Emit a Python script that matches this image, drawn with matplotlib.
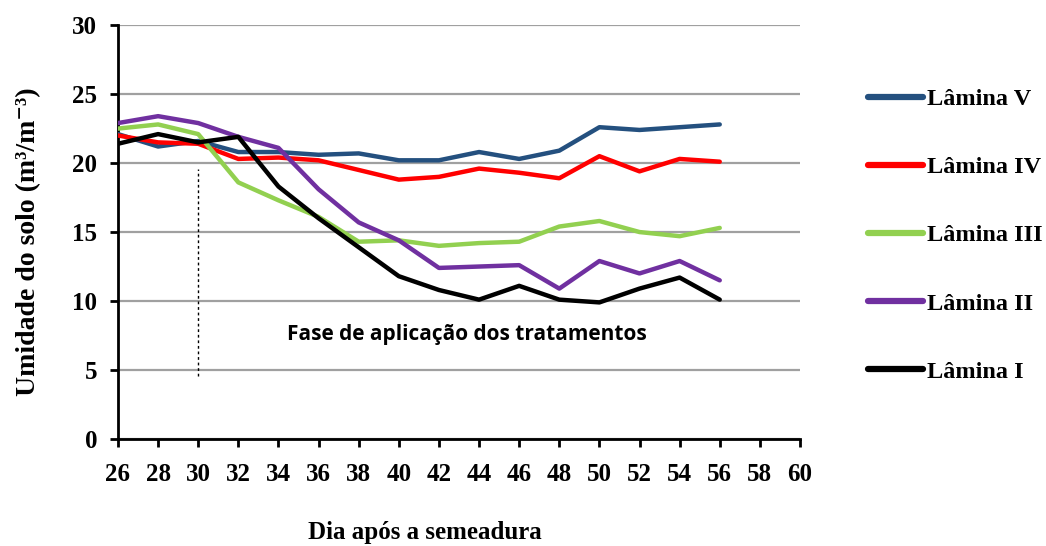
import matplotlib
matplotlib.use('Agg')
import matplotlib.pyplot as plt

plt.rcParams['font.family'] = ['Liberation Serif', 'DejaVu Serif']
plt.rcParams['font.weight'] = 'bold'

# Dias após a semeadura
dias = [26, 28, 30, 32, 34, 36, 38, 40, 42, 44, 46, 48, 50, 52, 54, 56]

lamina_v = [22.1, 21.2, 21.6, 20.8, 20.8, 20.6, 20.7, 20.2, 20.2, 20.8, 20.3, 20.9, 22.6, 22.4, 22.6, 22.8]
lamina_iv = [22.0, 21.5, 21.4, 20.3, 20.4, 20.2, 19.5, 18.8, 19.0, 19.6, 19.3, 18.9, 20.5, 19.4, 20.3, 20.1]
lamina_iii = [22.5, 22.8, 22.1, 18.6, 17.3, 16.1, 14.3, 14.4, 14.0, 14.2, 14.3, 15.4, 15.8, 15.0, 14.7, 15.3]
lamina_ii = [22.9, 23.4, 22.9, 21.9, 21.1, 18.1, 15.7, 14.4, 12.4, 12.5, 12.6, 10.9, 12.9, 12.0, 12.9, 11.5]
lamina_i = [21.4, 22.1, 21.5, 21.9, 18.3, 16.0, 13.9, 11.8, 10.8, 10.1, 11.1, 10.1, 9.9, 10.9, 11.7, 10.1]

series = [
    ('Lâmina V', lamina_v, '#24507f'),
    ('Lâmina IV', lamina_iv, '#ff0000'),
    ('Lâmina III', lamina_iii, '#92d050'),
    ('Lâmina II', lamina_ii, '#7030a0'),
    ('Lâmina I', lamina_i, '#000000'),
]

fig = plt.figure(figsize=(10.46, 5.46), dpi=100)
ax = fig.add_axes([0.1128, 0.196, 0.652, 0.758])

for label, vals, col in series:
    ax.plot(dias, vals, color=col, lw=3.2, label=label, solid_capstyle='round', zorder=3)

# linha pontilhada do início dos tratamentos
ax.plot([30, 30], [4.6, 19.6], color='black', lw=1, ls=(0, (2, 2)), zorder=2)
ax.text(43.4, 7.6, 'Fase de aplicação dos tratamentos', family='Open Sans',
        fontweight='bold', fontsize=15, ha='center', va='center')

ax.set_xlim(26, 60)
ax.set_ylim(0, 30)
ax.set_xticks(range(26, 61, 2))
ax.set_yticks(range(0, 31, 5))
ax.grid(axis='y', color='#a0a0a0', lw=1.6, zorder=1)
ax.set_axisbelow(True)
for s in ['top', 'right']:
    ax.spines[s].set_visible(False)
for s in ['left', 'bottom']:
    ax.spines[s].set_linewidth(2)
ax.tick_params(axis='both', direction='out', length=6, width=2, labelsize=18)
ax.tick_params(axis='x', pad=11)
ax.tick_params(axis='y', pad=9)
for t in ax.get_xticklabels() + ax.get_yticklabels():
    t.set_fontweight('bold')

fig.text(0.027, 0.558, 'Umidade do solo (m³/m⁻³)', rotation=90,
         ha='center', va='center', fontsize=20, fontweight='bold')
fig.text(0.406, 0.004, 'Dia após a semeadura', ha='center', va='bottom',
         fontsize=18, fontweight='bold')

leg = ax.legend(loc='upper left', bbox_to_anchor=(1.0997, 0.848), frameon=False,
                fontsize=17.5, handlelength=2.25, handletextpad=0.17,
                labelspacing=1.9, borderaxespad=0, borderpad=0)
for t in leg.get_texts():
    t.set_fontweight('bold')
for h in leg.get_lines():
    h.set_linewidth(4.5)

fig.savefig('out.png', dpi=100)
